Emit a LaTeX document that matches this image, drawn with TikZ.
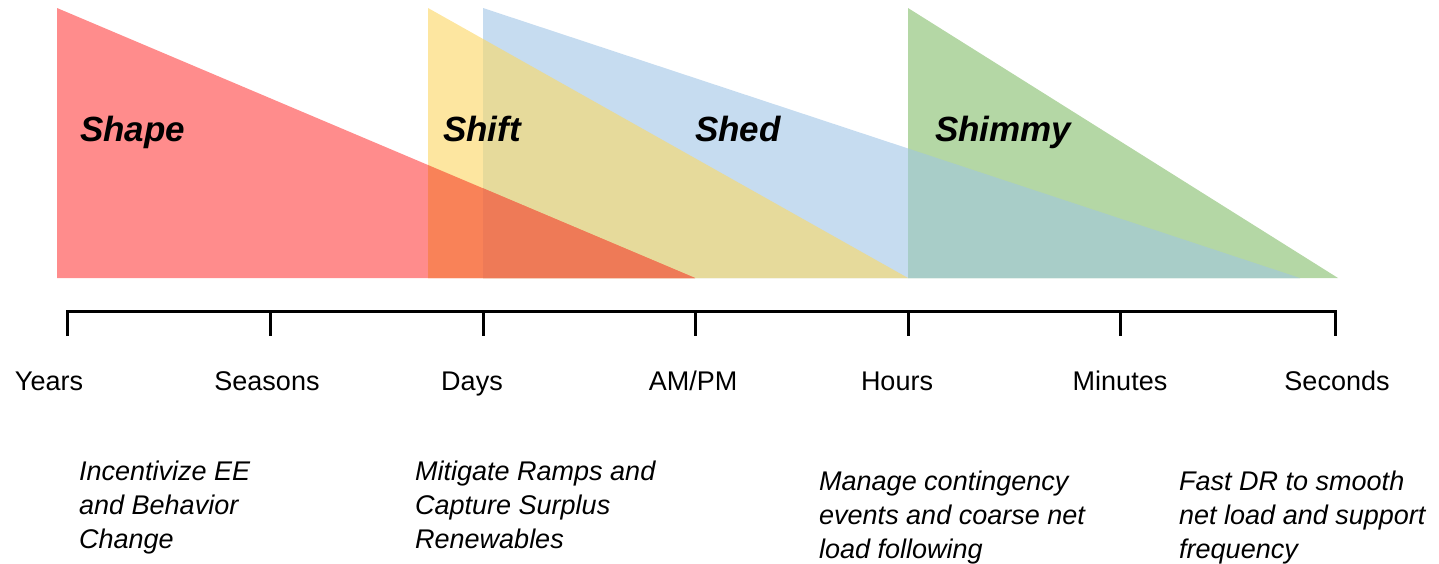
\documentclass[tikz,border=0pt]{standalone}
\usepackage{fontspec}
\setmainfont{Liberation Sans}
\definecolor{cRed}{HTML}{FF8C8C}
\definecolor{cYellow}{HTML}{FDE6A0}
\definecolor{cBlue}{HTML}{C6DCF0}
\definecolor{cGreen}{HTML}{B4D7A5}
\definecolor{cRY}{HTML}{F98258}
\definecolor{cRYB}{HTML}{EE7A57}
\definecolor{cYB}{HTML}{E6DA9B}
\definecolor{cBG}{HTML}{A8CDC8}
\tikzset{
  phase/.style={anchor=base west, inner sep=0pt, font=\fontsize{35}{40}\selectfont\bfseries\itshape},
  scale lbl/.style={anchor=base, inner sep=0pt, font=\fontsize{27}{32}\selectfont},
  desc/.style={anchor=north west, inner sep=0pt, align=left, font=\fontsize{27}{34}\selectfont\itshape},
  axisline/.style={line width=3pt, black}
}
\begin{document}
\begin{tikzpicture}[x=1pt,y=-1pt]
\useasboundingbox (0,0) rectangle (1439,563);
% triangles
\def\redtri{(57,8) -- (57,278) -- (695,278) -- cycle}
\def\yeltri{(428,8) -- (428,278) -- (908,278) -- cycle}
\def\blutri{(483,8) -- (483,278) -- (1300,278) -- cycle}
\def\grntri{(908,8) -- (908,278) -- (1338,278) -- cycle}
\fill[cRed] \redtri;
\fill[cYellow] \yeltri;
\fill[cBlue] \blutri;
\fill[cGreen] \grntri;
\begin{scope}
  \clip \yeltri;
  \fill[cYB] \blutri;
  \fill[cRY] \redtri;
  \clip \blutri;
  \fill[cRYB] \redtri;
\end{scope}
\begin{scope}
  \clip \grntri;
  \fill[cBG] \blutri;
\end{scope}
% phase labels
\node[phase] (shape) at (80,141) {Shape};
\node[phase] (shift) at (443,141) {Shift};
\node[phase] (shed) at (695,141) {Shed};
\node[phase] (shimmy) at (935,141) {Shimmy};
% axis
\coordinate (t1) at (67,311);
\coordinate (t2) at (270,311);
\coordinate (t3) at (483,311);
\coordinate (t4) at (695,311);
\coordinate (t5) at (908,311);
\coordinate (t6) at (1120,311);
\coordinate (t7) at (1335,311);
\draw[axisline] ([yshift=-25pt]t1) -- (t1) -- (t7) -- ([yshift=-25pt]t7);
\foreach \t in {t2,t3,t4,t5,t6} \draw[axisline] (\t) -- ([yshift=-25pt]\t);
% scale labels
\node[scale lbl] (years) at (49,390) {Years};
\node[scale lbl] (seasons) at (267,390) {Seasons};
\node[scale lbl] (days) at (472,390) {Days};
\node[scale lbl] (ampm) at (693,390) {AM/PM};
\node[scale lbl] (hours) at (897,390) {Hours};
\node[scale lbl] (minutes) at (1120,390) {Minutes};
\node[scale lbl] (seconds) at (1337,390) {Seconds};
% descriptions
\node[desc] (d1) at (79,461) {Incentivize EE\\and Behavior\\Change};
\node[desc] (d2) at (415,461) {Mitigate Ramps and\\Capture Surplus\\Renewables};
\node[desc] (d3) at (819,471) {Manage contingency\\events and coarse net\\load following};
\node[desc] (d4) at (1179,471) {Fast DR to smooth\\net load and support\\frequency};
\end{tikzpicture}
\end{document}
